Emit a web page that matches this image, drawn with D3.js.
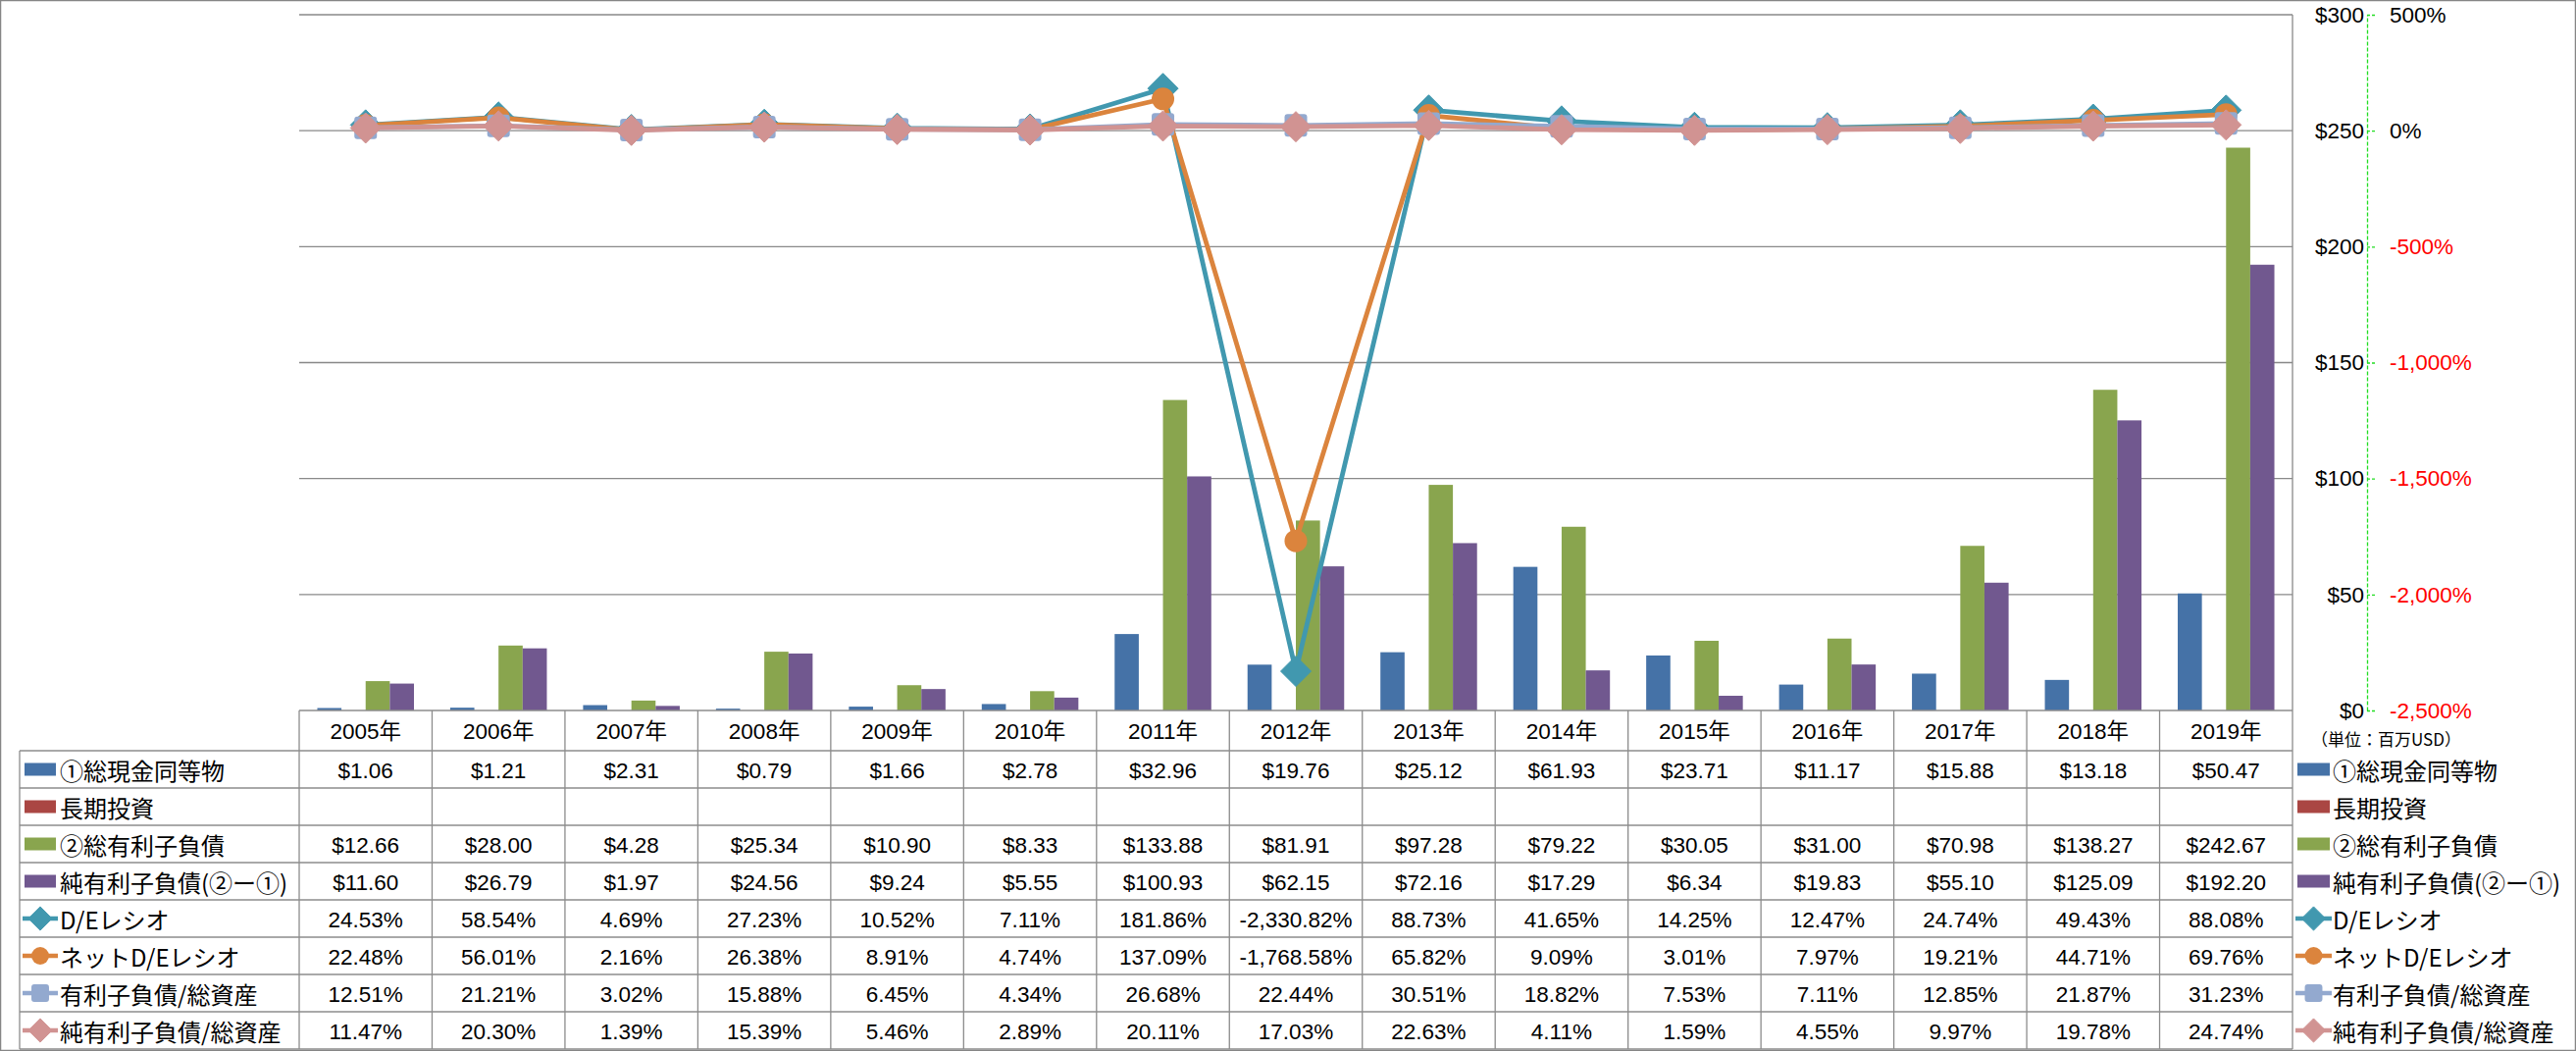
<!DOCTYPE html>
<html>
<head>
<meta charset="utf-8">
<script src="https://cdn.jsdelivr.net/npm/d3@7"></script>
<style>
  html, body { margin: 0; padding: 0; background: #fff; }
  svg { display: block; }
</style>
</head>
<body>
<svg id="chart" width="2626" height="1071"></svg>
<script>
// ---------------- DATA ----------------
const years = ["2005年","2006年","2007年","2008年","2009年","2010年","2011年","2012年","2013年","2014年","2015年","2016年","2017年","2018年","2019年"];
const cash = [1.06, 1.21, 2.31, 0.79, 1.66, 2.78, 32.96, 19.76, 25.12, 61.93, 23.71, 11.17, 15.88, 13.18, 50.47];
const longTermInv = [null, null, null, null, null, null, null, null, null, null, null, null, null, null, null];
const totalDebt = [12.66, 28.00, 4.28, 25.34, 10.90, 8.33, 133.88, 81.91, 97.28, 79.22, 30.05, 31.00, 70.98, 138.27, 242.67];
const netDebt = [11.60, 26.79, 1.97, 24.56, 9.24, 5.55, 100.93, 62.15, 72.16, 17.29, 6.34, 19.83, 55.10, 125.09, 192.20];
const deRatio = [24.53, 58.54, 4.69, 27.23, 10.52, 7.11, 181.86, -2330.82, 88.73, 41.65, 14.25, 12.47, 24.74, 49.43, 88.08];
const netDeRatio = [22.48, 56.01, 2.16, 26.38, 8.91, 4.74, 137.09, -1768.58, 65.82, 9.09, 3.01, 7.97, 19.21, 44.71, 69.76];
const debtToAssets = [12.51, 21.21, 3.02, 15.88, 6.45, 4.34, 26.68, 22.44, 30.51, 18.82, 7.53, 7.11, 12.85, 21.87, 31.23];
const netDebtToAssets = [11.47, 20.30, 1.39, 15.39, 5.46, 2.89, 20.11, 17.03, 22.63, 4.11, 1.59, 4.55, 9.97, 19.78, 24.74];
const yTicks = [0, 50, 100, 150, 200, 250, 300];
const y2Ticks = [-2500, -2000, -1500, -1000, -500, 0, 500];
const unitLabel = "（単位：百万USD）";

const barSeries = [
  {name: "①総現金同等物", values: cash, color: "#4572A7"},
  {name: "長期投資", values: longTermInv, color: "#AA4643"},
  {name: "②総有利子負債", values: totalDebt, color: "#89A54E"},
  {name: "純有利子負債(②ー①)", values: netDebt, color: "#71588F"}
];
const lineSeries = [
  {name: "D/Eレシオ", values: deRatio, color: "#4198AF", marker: "diamond"},
  {name: "ネットD/Eレシオ", values: netDeRatio, color: "#DB843D", marker: "circle"},
  {name: "有利子負債/総資産", values: debtToAssets, color: "#93A9CF", marker: "square"},
  {name: "純有利子負債/総資産", values: netDebtToAssets, color: "#D19392", marker: "diamond"}
];

// ---------------- LAYOUT ----------------
const W = 2626, H = 1071;
const pLeft = 305, pRight = 2337, pTop = 15, pBottom = 724;
const headerH = 41, rowH = 38;
const labelLeft = 20;
const axisX = 2413;
const gridColor = "#898989";
const numFont = "'Liberation Sans', 'Noto Sans CJK JP', sans-serif";
const jpFont = "'Noto Sans CJK JP', sans-serif";
const numSize = 22.5;

const loc = d3.formatLocale({decimal: ".", thousands: ",", grouping: [3], currency: ["$", ""], minus: "-"});

const svg = d3.select("#chart");
svg.append("rect").attr("x", 0.5).attr("y", 0.5).attr("width", W - 1).attr("height", H - 1)
  .attr("fill", "#fff").attr("stroke", "#868686").attr("stroke-width", 1.5);

const x = d3.scaleBand().domain(years).range([pLeft, pRight]).paddingInner(0).paddingOuter(0);
const xInner = d3.scaleBand().domain(barSeries.map(s => s.name)).range([0, x.bandwidth()])
  .paddingInner(0).paddingOuter(0.75);
const y = d3.scaleLinear().domain([0, 300]).range([pBottom, pTop]);
const y2 = d3.scaleLinear().domain([-2500, 500]).range([pBottom, pTop]);

// gridlines
svg.append("g").selectAll("line").data(yTicks.filter(d => d > 0)).join("line")
  .attr("x1", pLeft).attr("x2", pRight).attr("y1", d => y(d)).attr("y2", d => y(d))
  .attr("stroke", gridColor).attr("stroke-width", 1.3);
svg.append("line").attr("x1", pRight).attr("x2", pRight).attr("y1", pTop).attr("y2", pBottom)
  .attr("stroke", gridColor).attr("stroke-width", 1.3);

// bars
const barG = svg.append("g");
barSeries.forEach(s => {
  barG.append("g").selectAll("rect")
    .data(years.map((yr, i) => ({yr, v: s.values[i]})).filter(d => d.v != null))
    .join("rect")
    .attr("x", d => x(d.yr) + xInner(s.name))
    .attr("width", xInner.bandwidth())
    .attr("y", d => y(d.v))
    .attr("height", d => y(0) - y(d.v))
    .attr("fill", s.color);
});

function drawMarker(g, type, cx, cy, color, scale) {
  scale = scale || 1;
  if (type === "diamond") {
    const r = 15.5 * scale;
    g.append("path").attr("d", `M${cx},${cy - r}L${cx + r},${cy}L${cx},${cy + r}L${cx - r},${cy}Z`)
      .attr("fill", color).attr("stroke", color).attr("stroke-width", 1).attr("stroke-linejoin", "round");
  } else if (type === "circle") {
    g.append("circle").attr("cx", cx).attr("cy", cy).attr("r", 11.5 * scale).attr("fill", color);
  } else if (type === "square") {
    const s = 23 * scale;
    g.append("rect").attr("x", cx - s / 2).attr("y", cy - s / 2).attr("width", s).attr("height", s)
      .attr("rx", 3).attr("fill", color);
  }
}

// lines
const lineGen = d3.line().x(d => x(d.yr) + x.bandwidth() / 2).y(d => y2(d.v));
lineSeries.forEach(s => {
  const g = svg.append("g");
  const pts = years.map((yr, i) => ({yr, v: s.values[i]}));
  g.append("path").datum(pts).attr("d", lineGen).attr("fill", "none")
    .attr("stroke", s.color).attr("stroke-width", 4.8).attr("stroke-linejoin", "round");
  pts.forEach(p => drawMarker(g, s.marker, x(p.yr) + x.bandwidth() / 2, y2(p.v), s.color));
});

// axes at right
const axL = svg.append("g").attr("transform", `translate(${axisX},0)`)
  .call(d3.axisLeft(y).tickValues(yTicks).tickSize(0).tickPadding(3).tickFormat(d => "$" + d));
axL.select(".domain").remove();
axL.selectAll("text").attr("font-family", numFont).attr("font-size", numSize).attr("fill", "#000");

const axR = svg.append("g").attr("transform", `translate(${axisX},0)`)
  .call(d3.axisRight(y2).tickValues(y2Ticks).tickSizeInner(9).tickSizeOuter(0).tickPadding(14)
    .tickFormat(d => loc.format(",")(d) + "%"));
axR.select(".domain").attr("stroke", "#22DD22").attr("stroke-width", 1.3).attr("stroke-dasharray", "4,2");
axR.selectAll(".tick line").attr("stroke", "#22DD22").attr("stroke-width", 1.3).attr("stroke-dasharray", "3,2");
axR.selectAll("text").attr("font-family", numFont).attr("font-size", numSize)
  .attr("fill", d => d < 0 ? "#FF0000" : "#000");

svg.append("text").attr("x", 2356).attr("y", 752).attr("dominant-baseline", "central")
  .attr("font-family", jpFont).attr("font-size", 17).attr("fill", "#000").text(unitLabel);

// ---------------- DATA TABLE ----------------
const tableTop = pBottom;
const rowsTop = tableTop + headerH;
const allSeries = barSeries.map(s => Object.assign({kind: "bar"}, s))
  .concat(lineSeries.map(s => Object.assign({kind: "line"}, s)));
const tableBottom = rowsTop + rowH * allSeries.length;
const tg = svg.append("g").attr("stroke", "#8C8C8C").attr("stroke-width", 1.3);
tg.append("line").attr("x1", pLeft).attr("x2", pRight).attr("y1", tableTop).attr("y2", tableTop);
d3.range(allSeries.length + 1).forEach(i => {
  const yy = rowsTop + rowH * i;
  tg.append("line").attr("x1", labelLeft).attr("x2", pRight).attr("y1", yy).attr("y2", yy);
});
tg.append("line").attr("x1", labelLeft).attr("x2", labelLeft).attr("y1", rowsTop).attr("y2", tableBottom);
years.forEach(yr => {
  tg.append("line").attr("x1", x(yr)).attr("x2", x(yr)).attr("y1", tableTop).attr("y2", tableBottom);
});
tg.append("line").attr("x1", pRight).attr("x2", pRight).attr("y1", tableTop).attr("y2", tableBottom);

svg.append("g").selectAll("text").data(years).join("text")
  .attr("x", d => x(d) + x.bandwidth() / 2).attr("y", tableTop + headerH / 2 + 1)
  .attr("text-anchor", "middle").attr("dominant-baseline", "central")
  .attr("font-family", numFont).attr("font-size", numSize).attr("fill", "#000").text(d => d);

const fmtMoney = v => "$" + loc.format(",.2f")(v);
const fmtPct = v => loc.format(",.2f")(v) + "%";

function legendKey(g, s, x0, x1, cy) {
  if (s.kind === "bar") {
    g.append("rect").attr("x", x0 + 2).attr("y", cy - 6.5).attr("width", x1 - x0 - 4).attr("height", 13).attr("fill", s.color);
  } else {
    g.append("line").attr("x1", x0).attr("x2", x1).attr("y1", cy).attr("y2", cy)
      .attr("stroke", s.color).attr("stroke-width", 4.5);
    drawMarker(g, s.marker, (x0 + x1) / 2, cy, s.color, 0.78);
  }
}

allSeries.forEach((s, i) => {
  const cy = rowsTop + rowH * i + rowH / 2;
  const g = svg.append("g");
  legendKey(g, s, 23, 59, cy);
  g.append("text").attr("x", 61).attr("y", cy).attr("dominant-baseline", "central")
    .attr("font-family", jpFont).attr("font-size", 24).attr("fill", "#000").text(s.name);
  g.append("g").selectAll("text")
    .data(years.map((yr, j) => ({yr, v: s.values[j]})).filter(d => d.v != null))
    .join("text")
    .attr("x", d => x(d.yr) + x.bandwidth() / 2).attr("y", cy + 1)
    .attr("text-anchor", "middle").attr("dominant-baseline", "central")
    .attr("font-family", numFont).attr("font-size", numSize).attr("fill", "#000")
    .text(d => s.kind === "bar" ? fmtMoney(d.v) : fmtPct(d.v));
  legendKey(g, s, 2340, 2377, cy);
  g.append("text").attr("x", 2378).attr("y", cy).attr("dominant-baseline", "central")
    .attr("font-family", jpFont).attr("font-size", 24).attr("fill", "#000").text(s.name);
});
</script>
</body>
</html>
